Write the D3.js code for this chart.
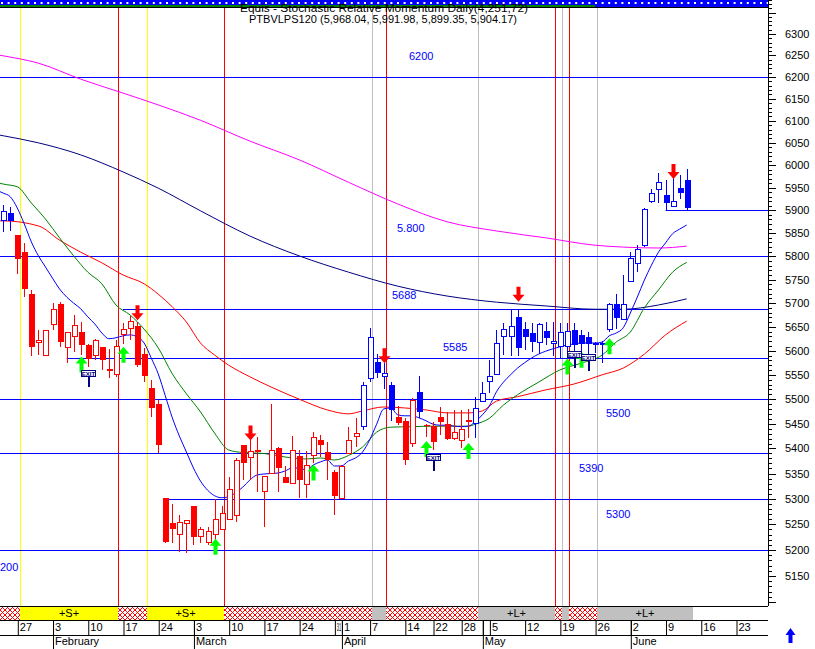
<!DOCTYPE html>
<html>
<head>
<meta charset="utf-8">
<script src="https://cdn.jsdelivr.net/npm/d3@7/dist/d3.min.js"></script>
<style>
html,body{margin:0;padding:0;background:#fff;}
svg{display:block;}
text{font-family:"Liberation Sans",Arial,Helvetica,sans-serif;}
</style>
</head>
<body>
<svg id="chart" width="815" height="649"></svg>
<script>
// ================= DATA =================
// trading-day index: 0 = 27 Jan 2003; candles start at index -2 (23 Jan)
const firstIndex = -2;
const opens = [
 5877,5895,5846,5810,5719,5618,5589,5655,5698,5607,
 5630,5640,5612,5591,5607,5562,5550,5633,5647,5652,
 5594,5523,5491,5301,5252,5231,5252,5286,5226,5214,
 5231,5240,5260,5268,5407,5382,5394,5314,5350,5402,
 5344,5331,5384,5328,5385,5417,5392,5354,5301,5390,
 5425,5444,5543,5577,5547,5529,5463,5456,5410,5515,
 5447,5445,5463,5449,5421,5417,5458,5451,5495,5536,
 5551,5629,5629,5671,5646,5636,5618,5641,5616,5608,
 5608,5643,5633,5628,5614,5616,5645,5698,5666,5745,
 5785,5824,5920,5946,5933,5909,5950,5968.04];
const highs = [
 5912,5908,5846,5828,5728,5643,5642,5701,5703,5640,
 5675,5661,5615,5624,5608,5604,5622,5657,5673,5661,
 5605,5540,5498,5301,5290,5268,5258,5286,5245,5245,
 5300,5285,5344,5380,5407,5417,5424,5344,5491,5404,
 5364,5425,5397,5395,5434,5427,5414,5357,5366,5444,
 5461,5536,5647,5594,5574,5536,5485,5461,5502,5547,
 5449,5454,5483,5474,5478,5478,5480,5505,5536,5581,
 5643,5657,5686,5688,5660,5657,5657,5661,5661,5657,
 5657,5657,5643,5640,5618,5620,5700,5719,5760,5810,
 5824,5905,5946,5983,5966,5979,5979,5991.98];
const lows = [
 5853,5855,5763,5714,5590,5591,5589,5643,5608,5574,
 5598,5591,5567,5581,5560,5543,5546,5615,5622,5567,
 5535,5463,5390,5213,5213,5197,5194,5210,5213,5210,
 5213,5238,5258,5255,5337,5337,5314,5245,5350,5314,
 5331,5330,5301,5301,5370,5382,5337,5268,5301,5390,
 5404,5437,5536,5543,5520,5456,5447,5367,5404,5461,
 5423,5397,5427,5417,5417,5400,5421,5421,5495,5512,
 5549,5591,5589,5589,5601,5598,5594,5612,5589,5585,
 5589,5589,5580,5594,5595,5574,5640,5645,5666,5744,
 5767,5820,5916,5916,5901,5909,5926,5899.35];
const closes = [
 5897,5876,5794,5731,5608,5621,5642,5686,5618,5638,
 5652,5612,5582,5622,5580,5558,5608,5644,5661,5570,
 5547,5482,5407,5216,5240,5254,5258,5226,5240,5236,
 5259,5271,5319,5375,5370,5393,5396,5344,5395,5360,
 5331,5396,5337,5365,5422,5407,5376,5306,5364,5417,
 5431,5527,5628,5553,5552,5478,5451,5376,5498,5474,
 5445,5414,5454,5419,5432,5439,5454,5481,5512,5547,
 5616,5644,5650,5605,5629,5618,5654,5627,5620,5638,
 5640,5612,5615,5614,5616,5612,5698,5669,5698,5796,
 5815,5901,5938,5961,5917,5920,5939,5904.17];
// candle colour regime, as runs of consecutive sessions
const colorRuns = [["blue",2],["red",49],["blue",5],["red",3],["blue",1],["red",7],["blue",31]];

// moving averages
const fastMAStart = -3;
const fastMA = [
 5945,5938,5930,5905,5870,5831,5801,5777,5753,5730,5713,
 5700,5688,5671,5656,5637,5625,5627,5631,5633,5629,
 5616,5585,5552,5507,5462,5425,5393,5361,5335,5317,
 5306,5302,5304,5312,5323,5337,5347,5349,5350,5351,
 5355,5361,5361,5357,5367,5373,5377,5365,5365,5375,
 5381,5393,5417,5449,5480,5482,5468,5466,5466,5462,
 5456,5449,5447,5447,5445,5444,5445,5454,5468,5486,
 5515,5535,5550,5564,5575,5585,5593,5599,5604,5608,
 5612,5614,5616,5616,5616,5618,5631,5637,5648,5679,
 5713,5749,5781,5809,5829,5849,5859,5868];
const midMA = [[-3,5962],[-2,5958],[0,5952],[2,5916],[4,5881],[6,5840],[8,5801],[10,5766],[12,5741],[14,5696],
 [16,5675],[18,5645],[20,5606],[22,5552],[24,5511],[26,5474],[28,5431],[30,5397],[32,5392],[35,5390],
 [38,5383],[41,5379],[43,5381],[45,5377],[47,5386],[49,5403],[51,5433],[53,5443],[56,5444],[59,5445],
 [62,5445],[64,5445],[65,5449],[67,5461],[69,5488],[71,5509],[74,5535],[77,5560],[80,5574],[83,5591],
 [85,5618],[87,5639],[89,5690],[91,5728],[93,5766],[95,5787]];
const slowMA = [[-3,5877],[-2,5877],[3,5866],[6,5835],[9,5809],[12,5786],[15,5760],[18,5741],[20,5719],[22,5692],
 [24,5660],[26,5616],[28,5591],[30,5570],[33,5546],[36,5525],[40,5500],[44,5478],[47,5470],[49,5476],
 [52,5484],[55,5482],[58,5478],[61,5472],[64,5472],[66,5476],[68,5496],[71,5505],[75,5519],[79,5531],
 [83,5550],[86,5564],[89,5593],[92,5633],[95,5662]];
const longMA = [[-3,6069],[-2,6066],[3,6050],[9,6023],[15,5985],[20,5949],[26,5899],[33,5844],[40,5801],[47,5766],
 [54,5736],[61,5715],[68,5702],[75,5694],[82,5687],[86,5687],[91,5696],[95,5709]];
const veryLongMA = [[-3,6252],[-2,6249],[3,6232],[9,6195],[15,6163],[20,6136],[26,6101],[33,6054],[40,6012],[47,5962],
 [54,5914],[61,5875],[68,5855],[75,5840],[82,5824],[86,5820],[91,5818],[95,5822]];

// horizontal price levels
const levels      = [6200, 5900, 5800, 5688, 5585, 5500, 5390, 5300, 5200];
const levelFrom   = [null,   92, null,   15,    7, null, null,   21, null];
const levelTexts  = ["6200", "", "5.800", "5688", "5585", "5500", "5390", "5300", "200"];

// signals
const sellIdx = [17, 33, 52, 71, 93];
const sellAt  = [5664, 5416, 5574, 5703, 5969];
const buyIdx  = [9, 15, 28, 42, 58, 64, 78, 80, 84];
const buyAt   = [5588, 5608, 5222, 5368, 5415, 5411, 5584, 5598, 5626];
const exitIdx = [10, 59, 79, 81];
const exitAt  = [5560, 5389, 5600, 5593];

// vertical markers (after session index)
const yellowMarks = [0, 18];
const redMarks = [14, 29, 52, 76, 78];
const grayMarks = [50, 65, 77, 82];

// state band below the chart
const bandFrom  = [-4, 0, 14, 18, 29, 50, 52, 65, 76, 77, 78, 82];
const bandTo    = [0, 14, 18, 29, 50, 52, 65, 76, 77, 78, 82, 95.5];
const bandKind  = ["x","S","x","S","x","g","x","L","x","g","x","L"];

// time axis
const weekTicks  = [0,5,10,15,20,25,30,35,40,45,46,50,55,59,63,66,67,72,77,82,87,92,97,102];
const weekLabels = ["27","3","10","17","24","3","10","17","24","31","1","7","14","22","28","","5","12","19","26","2","9","16","23"];
const monthTicks  = [5,25,46,66,87];
const monthLabels = ["February","March","April","May","June"];

// price axis
const priceLabels = [5150,5200,5250,5300,5350,5400,5450,5500,5550,5600,5650,5700,5750,5800,5850,5900,5950,6000,6050,6100,6150,6200,6250,6300];

const titleLine1 = "Equis - Stochastic Relative Momentum Daily(4,251,72)";
const titleLine2 = "PTBVLPS120 (5,968.04, 5,991.98, 5,899.35, 5,904.17)";

// ================= CHART =================
const svg = d3.select("#chart");
const PL = 0, PR = 768, PT = 7, PB = 606;

const x = d3.scaleLinear().domain([0, 102]).range([17.3, 736]);
const y = d3.scaleLog().domain([5092.8, 6363.5]).range([PB, PT]);
const markX = i => Math.floor(x(i) + 2.9) + 0.5;

svg.append("rect").attr("width", 815).attr("height", 649).attr("fill", "#fff");

const defs = svg.append("defs");
defs.append("clipPath").attr("id", "plot").append("rect")
  .attr("x", PL).attr("y", PT).attr("width", PR - PL).attr("height", PB - PT);
const pat = defs.append("pattern").attr("id", "hatch").attr("patternUnits", "userSpaceOnUse")
  .attr("width", 5).attr("height", 5);
pat.append("rect").attr("width", 5).attr("height", 5).attr("fill", "#fff");
pat.append("path").attr("d", "M0,0L5,5M5,0L0,5").attr("stroke", "#ff0000").attr("stroke-width", 1);

const plot = svg.append("g").attr("clip-path", "url(#plot)");

// vertical markers
function vlines(arr, color) {
  plot.selectAll(null).data(arr).join("line")
    .attr("x1", d => markX(d)).attr("x2", d => markX(d))
    .attr("y1", PT).attr("y2", PB)
    .attr("stroke", color).attr("stroke-width", 1);
}
vlines(grayMarks, "#c0c0c0");
vlines(yellowMarks, "#ffff00");
vlines(redMarks, "#ff0000");

// horizontal levels
levels.forEach((v, k) => {
  const yy = Math.round(y(v)) + 0.5;
  plot.append("line")
    .attr("x1", levelFrom[k] == null ? PL : x(levelFrom[k])).attr("x2", PR)
    .attr("y1", yy).attr("y2", yy).attr("stroke", "#0000ff").attr("stroke-width", 1);
});

// moving averages
const lineGen = d3.line().x(d => x(d[0])).y(d => y(d[1])).curve(d3.curveMonotoneX);
const fastPts = fastMA.map((v, k) => [fastMAStart + k, v]);
[[veryLongMA, "#ff00ff"], [longMA, "#000080"], [slowMA, "#ff0000"], [midMA, "#008000"], [fastPts, "#0000ff"]]
  .forEach(([pts, c]) => {
    plot.append("path").attr("d", lineGen(pts)).attr("fill", "none")
      .attr("stroke", c).attr("stroke-width", 1);
  });

// candles
const colors = [];
colorRuns.forEach(([c, n]) => { for (let k = 0; k < n; k++) colors.push(c); });
const candles = opens.map((o, k) => ({
  i: firstIndex + k, o, h: highs[k], l: lows[k], c: closes[k], col: colors[k] === "blue" ? "#0000ff" : "#ff0000"
}));
const cg = plot.append("g").attr("shape-rendering", "crispEdges");
candles.forEach(d => {
  const cx = Math.round(x(d.i));
  cg.append("line").attr("x1", cx + 0.5).attr("x2", cx + 0.5)
    .attr("y1", y(d.h)).attr("y2", y(d.l)).attr("stroke", d.col).attr("stroke-width", 1);
  const top = y(Math.max(d.o, d.c)), bot = y(Math.min(d.o, d.c));
  if (d.c >= d.o) {
    cg.append("rect").attr("x", cx - 2).attr("y", top).attr("width", 5).attr("height", Math.max(1, bot - top))
      .attr("fill", "#fff").attr("stroke", d.col).attr("stroke-width", 1);
  } else {
    cg.append("rect").attr("x", cx - 2.5).attr("y", top).attr("width", 6).attr("height", Math.max(1, bot - top))
      .attr("fill", d.col);
  }
});

// signals
const sg = plot.append("g");
sellIdx.forEach((i, k) => {
  const cx = Math.round(x(i)) + 0.5, t = y(sellAt[k]);
  sg.append("path").attr("fill", "#ff0000")
    .attr("d", `M${cx},${t}L${cx-6},${t-7}L${cx-2},${t-7}L${cx-2},${t-15}L${cx+2},${t-15}L${cx+2},${t-7}L${cx+6},${t-7}Z`);
});
buyIdx.forEach((i, k) => {
  const cx = Math.round(x(i)) + 0.5, t = y(buyAt[k]);
  sg.append("path").attr("fill", "#00ff00")
    .attr("d", `M${cx},${t}L${cx-6},${t+7}L${cx-2},${t+7}L${cx-2},${t+16}L${cx+2},${t+16}L${cx+2},${t+7}L${cx+6},${t+7}Z`);
});
exitIdx.forEach((i, k) => {
  const cx = Math.round(x(i)) - 1, t = Math.round(y(exitAt[k]));
  sg.append("rect").attr("x", cx + 1).attr("y", t + 6).attr("width", 2).attr("height", 11).attr("fill", "#000080");
  sg.append("rect").attr("x", cx - 5.5).attr("y", t + 0.5).attr("width", 14).attr("height", 6)
    .attr("fill", "#fff").attr("stroke", "#000080").attr("stroke-width", 1);
  sg.append("text").attr("x", cx + 1.5).attr("y", t + 5.6).attr("text-anchor", "middle")
    .attr("font-size", 6).attr("font-weight", "bold").attr("fill", "#000080").text("EXIT");
});

// level labels
const labelLayout = [[409, -17], null, [397, -24], [392, -10], [443, -7], [606, 18], [579, 18.5], [606, 19], [0, 21]];
levels.forEach((v, k) => {
  if (!labelLayout[k]) return;
  svg.append("text").attr("x", labelLayout[k][0]).attr("y", y(v) + labelLayout[k][1])
    .attr("font-size", 11).attr("fill", "#0000ff").text(levelTexts[k]);
});

// top indicator strip
svg.append("rect").attr("x", 0).attr("y", 0).attr("width", PR).attr("height", 7).attr("fill", "#0000ff");
svg.append("rect").attr("x", 0).attr("y", 5).attr("width", 595).attr("height", 2).attr("fill", "#008000");
svg.append("line").attr("x1", 1).attr("x2", PR).attr("y1", 3).attr("y2", 3)
  .attr("stroke", "#fff").attr("stroke-width", 2).attr("stroke-dasharray", "2,4.6");
svg.append("line").attr("x1", 0).attr("x2", PR).attr("y1", 7.5).attr("y2", 7.5).attr("stroke", "#000");

// titles
svg.append("text").attr("x", 240).attr("y", 11.5).attr("font-size", 10).attr("textLength", 288)
  .attr("lengthAdjust", "spacingAndGlyphs").text(titleLine1);
svg.append("text").attr("x", 249).attr("y", 23).attr("font-size", 10).attr("textLength", 268)
  .attr("lengthAdjust", "spacingAndGlyphs").text(titleLine2);

// price axis (right)
const allTicks = d3.range(5090, 6390, 10).filter(v => y(v) >= 0 && y(v) <= PB);
const ax = svg.append("g").attr("transform", `translate(${PR},0)`);
ax.append("line").attr("x1", 0.5).attr("x2", 0.5).attr("y1", 0).attr("y2", PB).attr("stroke", "#000");
ax.selectAll(null).data(allTicks).join("line")
  .attr("x1", 0).attr("x2", d => d % 50 === 0 ? 8 : 4)
  .attr("y1", d => Math.round(y(d)) + 0.5).attr("y2", d => Math.round(y(d)) + 0.5).attr("stroke", "#000");
ax.selectAll(null).data(priceLabels).join("text")
  .attr("x", 17).attr("y", d => y(d) + 4).attr("font-size", 11).attr("fill", "#000").text(d => d);

// state band
const band = svg.append("g");
bandFrom.forEach((f, k) => {
  const x0 = Math.max(0, markX(f) - 0.5), x1 = markX(bandTo[k]) - 0.5;
  const fill = bandKind[k] === "x" ? "url(#hatch)" : bandKind[k] === "S" ? "#ffff00" : "#c0c0c0";
  band.append("rect").attr("x", x0).attr("y", PB).attr("width", x1 - x0).attr("height", 14).attr("fill", fill);
  if (bandKind[k] === "S" || bandKind[k] === "L") {
    band.append("text").attr("x", (x0 + x1) / 2).attr("y", 617).attr("text-anchor", "middle")
      .attr("font-size", 11).text(bandKind[k] === "S" ? "+S+" : "+L+");
  }
});
[PB + 0.5, 620.5, 635.5].forEach(yy => svg.append("line").attr("x1", 0).attr("x2", PR)
  .attr("y1", yy).attr("y2", yy).attr("stroke", "#000"));

// date axis
const xa = svg.append("g").attr("transform", "translate(0,620)")
  .call(d3.axisBottom(x).tickValues(weekTicks).tickFormat((d, k) => weekLabels[k]).tickSize(15).tickSizeOuter(0));
xa.select(".domain").remove();
xa.selectAll(".tick line").attr("transform", "translate(0.5,0)");
xa.selectAll(".tick text").attr("text-anchor", "start").attr("x", 2).attr("y", 3).attr("dy", "0.71em")
  .attr("font-size", 11).attr("font-family", null);
// the "31" label is squeezed by the April tick right after it
xa.selectAll(".tick").filter(d => d === 45).select("text")
  .attr("textLength", Math.floor(x(46) - x(45)) - 2.5).attr("lengthAdjust", "spacingAndGlyphs");
const ma = svg.append("g").attr("transform", "translate(0,620)")
  .call(d3.axisBottom(x).tickValues(monthTicks).tickFormat((d, k) => monthLabels[k]).tickSize(29).tickSizeOuter(0));
ma.select(".domain").remove();
ma.selectAll(".tick line").attr("transform", "translate(0.5,0)");
ma.selectAll(".tick text").attr("text-anchor", "start").attr("x", 2).attr("y", 17).attr("dy", "0.71em")
  .attr("font-size", 11).attr("font-family", null);

// corner arrow
svg.append("path").attr("fill", "#0000ff")
  .attr("d", "M790.5,628L785.5,635L788.5,635L788.5,643L792.5,643L792.5,635L795.5,635Z");
</script>
</body>
</html>
